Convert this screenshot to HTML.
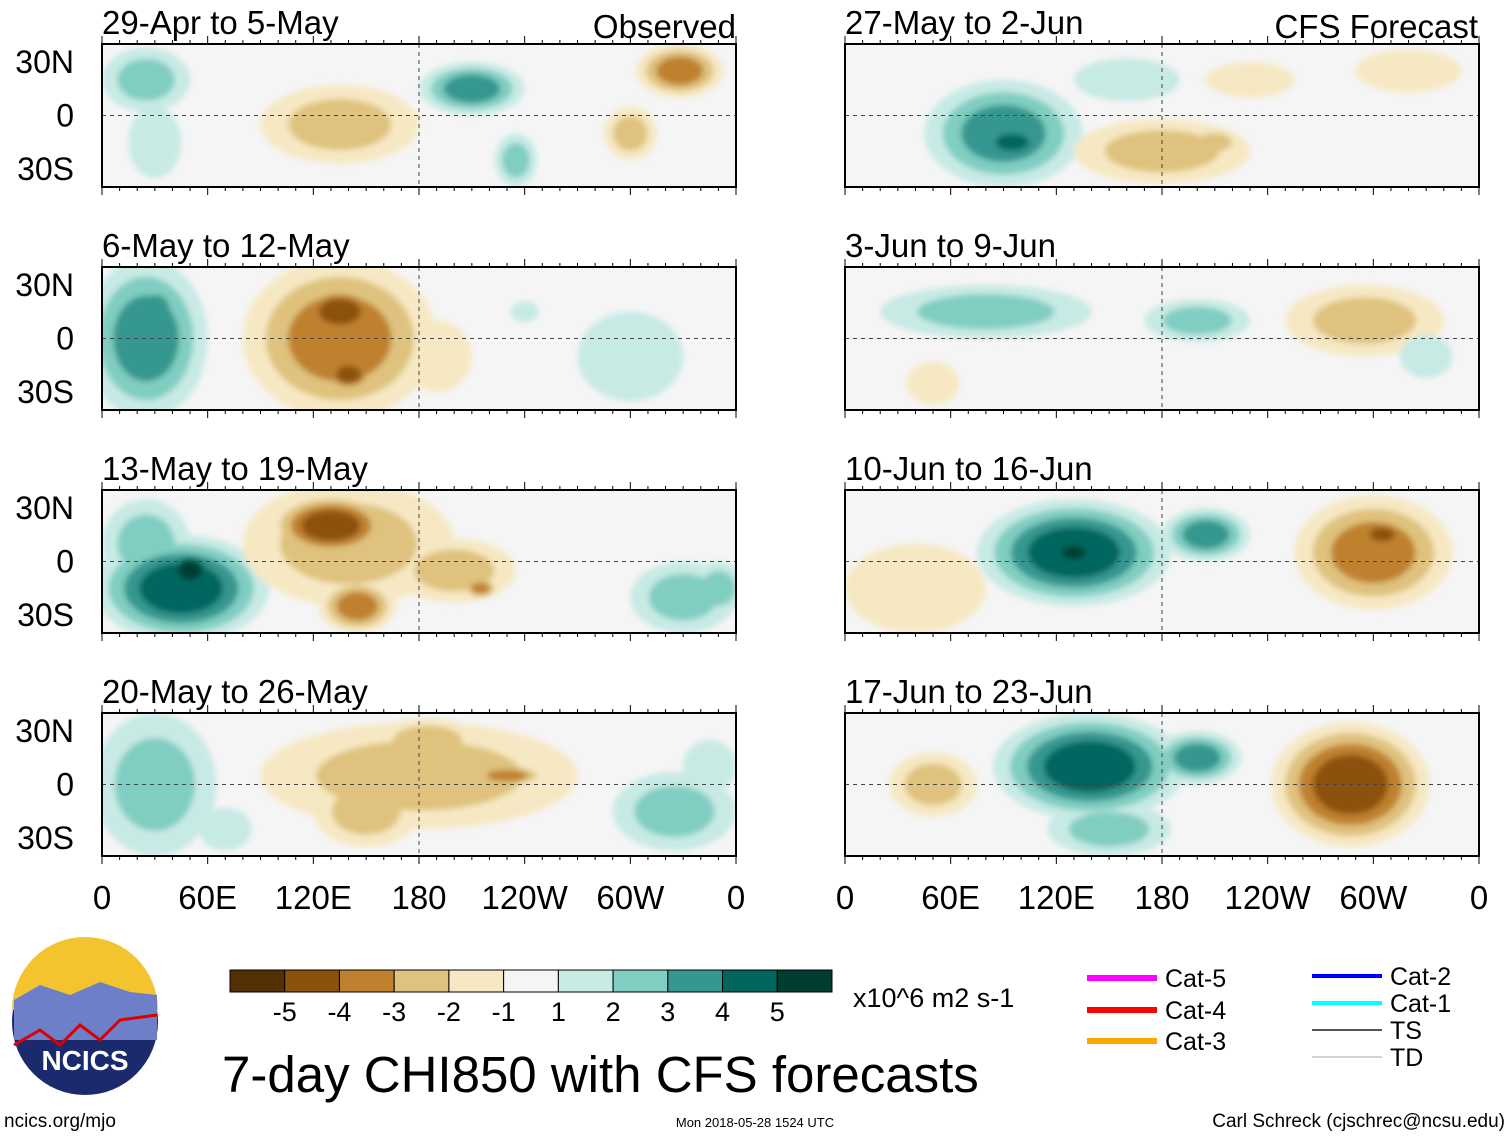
<!DOCTYPE html>
<html><head><meta charset="utf-8"><style>
body{margin:0;background:#fff;font-family:"Liberation Sans",sans-serif}
svg text{font-family:"Liberation Sans",sans-serif}
</style></head><body>
<svg id="c" width="1510" height="1137" xmlns="http://www.w3.org/2000/svg">
<defs><filter id="soft"><feGaussianBlur stdDeviation="3"/></filter></defs>
</svg>
<script>
const colors=["#543005","#8c510a","#bf812d","#dfc27d","#f6e8c3","#f5f5f5","#c7eae5","#80cdc1","#35978f","#01665e","#003c30"];
const levelLabels=["-5","-4","-3","-2","-1","1","2","3","4","5"];
const panelTitles=["29-Apr to 5-May","6-May to 12-May","13-May to 19-May","20-May to 26-May","27-May to 2-Jun","3-Jun to 9-Jun","10-Jun to 16-Jun","17-Jun to 23-Jun"];
const lonTicks=["0","60E","120E","180","120W","60W","0"];
const latTicks=["30N","0","30S"];
// anomaly blobs: [lon, lat, lonRadius, latRadius, level]
const blobs0=[[25,20,25,18,2],[30,-15,15,20,1],[135,-5,45,22,-2],[210,15,30,15,3],[235,-25,12,15,2],[328,25,25,15,-3],[300,-10,15,15,-2]];
const blobs1=[[25,0,35,45,3],[30,18,15,12,3],[135,0,55,45,-3],[135,15,25,15,-4],[140,-20,15,10,-4],[190,-10,20,20,-1],[300,-10,30,25,1],[240,15,8,6,1]];
const blobs2=[[45,-15,50,30,4],[50,-5,15,12,5],[25,10,25,25,2],[140,10,60,35,-2],[130,20,35,18,-4],[145,-25,22,15,-3],[200,-5,35,18,-2],[215,-15,10,6,-3],[330,-20,30,20,2],[350,-15,15,15,2]];
const blobs3=[[30,0,35,40,2],[70,-25,15,12,1],[180,5,90,30,-2],[185,25,30,12,-2],[230,5,22,6,-3],[150,-15,30,20,-2],[325,-15,35,22,2],[345,10,15,15,1]];
const blobs4=[[90,-10,45,30,3],[95,-15,20,10,4],[180,-20,50,18,-2],[210,-15,15,8,-2],[160,20,30,12,1],[230,20,25,10,-1],[320,25,30,12,-1]];
const blobs5=[[80,15,60,15,2],[200,10,30,12,2],[295,10,45,20,-2],[50,-25,15,12,-1],[330,-10,15,12,1]];
const blobs6=[[130,5,55,30,4],[130,5,15,8,5],[205,15,25,15,3],[300,5,45,32,-3],[305,15,15,8,-4],[40,-15,40,25,-1]];
const blobs7=[[139,10,55,30,4],[200,15,25,15,3],[287,0,45,35,-4],[50,0,25,18,-2],[150,-25,35,15,2]];
const allBlobs=[blobs0,blobs1,blobs2,blobs3,blobs4,blobs5,blobs6,blobs7];

const svg=document.getElementById('c');const NS="http://www.w3.org/2000/svg";
function mk(t,a,p){const e=document.createElementNS(NS,t);for(const k in a)e.setAttribute(k,a[k]);(p||svg).appendChild(e);return e;}
const colX=[102,845],W=634,rowY=[44,267,490,713],H=143;
function xScale(col,lon){return colX[col]+lon*W/360;}
function yScale(row,lat){return rowY[row]+H/2-lat*H/80;}
function colorFor(v){return colors[5+v];}
for(let p=0;p<8;p++){
  const col=p<4?0:1,row=p%4,x0=colX[col],y0=rowY[row];
  const g=mk('g',{});
  
  
  const clip=mk('clipPath',{id:'cp'+p},g);
  mk('rect',{x:x0,y:y0,width:W,height:H},clip);
  mk('rect',{x:x0,y:y0,width:W,height:H,fill:'#f5f5f5'},g);
  const inner=mk('g',{'clip-path':'url(#cp'+p+')'},g);
  const blur=mk('g',{filter:'url(#soft)'},inner);
  for(let k=1;k<=5;k++){
    allBlobs[p].forEach(b=>{const n=Math.abs(b[4]),s=Math.sign(b[4]);
      if(k>n)return;const f=(n-k+1)/n;
      const e=mk('ellipse',{cx:xScale(col,b[0]),cy:yScale(row,b[1]),rx:b[2]*W/360*(0.3+0.7*f),ry:b[3]*H/80*(0.3+0.7*f),fill:colorFor(s*k)},blur);
      
      });
  }
  mk('line',{x1:x0,x2:x0+W,y1:yScale(row,0),y2:yScale(row,0),stroke:'#444','stroke-dasharray':'4,4'},g);
  mk('line',{x1:xScale(col,180),x2:xScale(col,180),y1:y0,y2:y0+H,stroke:'#444','stroke-dasharray':'4,4'},g);
  mk('rect',{x:x0,y:y0,width:W,height:H,fill:'none',stroke:'#000','stroke-width':2},g);
  for(let i=0;i<=36;i++){const x=xScale(col,i*10),l=i%6==0?8:4;mk('line',{x1:x,x2:x,y1:y0,y2:y0-l,stroke:'#000'},g);mk('line',{x1:x,x2:x,y1:y0+H,y2:y0+H+l,stroke:'#000'},g);}
  const t=mk('text',{x:x0,y:y0-10,'font-size':33},g);t.textContent=panelTitles[p];
  
  if(col==0){[30,0,-30].forEach((la,i)=>{const tt=mk('text',{x:74,y:yScale(row,la)+11,'font-size':32,'text-anchor':'end'},g);tt.textContent=latTicks[i];
    });}
}
[[736,"Observed"],[1478,"CFS Forecast"]].forEach(a=>{const t=mk('text',{x:a[0],y:38,'font-size':33,'text-anchor':'end'});t.textContent=a[1];
  });
[0,1].forEach(col=>lonTicks.forEach((s,i)=>{const t=mk('text',{x:xScale(col,i*60),y:909,'font-size':33,'text-anchor':'middle'});t.textContent=s;
  }));
const cbX=230,cbW=602/11;
colors.forEach((c,i)=>{const r=mk('rect',{x:cbX+i*cbW,y:970,width:cbW,height:22,fill:c,stroke:'#000'});
  });
levelLabels.forEach((s,i)=>{const t=mk('text',{x:cbX+(i+1)*cbW,y:1021,'font-size':27,'text-anchor':'middle'});t.textContent=s;
  });
function txt(x,y,s,fs,name,anchor){const t=mk('text',{x:x,y:y,'font-size':fs,'text-anchor':anchor||'start'});t.textContent=s;
  return t;}
txt(853,1007,"x10^6 m2 s-1",27,'units-label');
txt(222,1092,"7-day CHI850 with CFS forecasts",51,'chart-title');
txt(4,1127,"ncics.org/mjo",19,'site-link');
txt(755,1127,"Mon 2018-05-28 1524 UTC",13,'timestamp','middle');
txt(1505,1127,"Carl Schreck (cjschrec@ncsu.edu)",19,'author','end');
[[1165,978,"#ff00ff","Cat-5",6],[1165,1010,"#ff0000","Cat-4",6],[1165,1041,"#ffa500","Cat-3",6],[1390,976,"#0000ff","Cat-2",4],[1390,1003,"#00ffff","Cat-1",4],[1390,1030,"#555","TS",2],[1390,1057,"#aaa","TD",1]].forEach(l=>{
  mk('line',{x1:l[0]-78,x2:l[0]-8,y1:l[1],y2:l[1],stroke:l[2],'stroke-width':l[4]});
  txt(l[0],l[1]+9,l[3],25,'storm-legend-entry');});
const lg=mk('g',{});
mk('circle',{cx:85,cy:1022,r:73,fill:'#1a2a6c'},lg);
mk('path',{d:'M12,1010 A73,73 0 0 1 158,1010 Z',fill:'#f4c430'},lg);
mk('path',{d:'M14,1000 L40,985 L70,995 L100,982 L130,992 L157,995 L157,1040 L14,1040 Z',fill:'#6c7fc8'},lg);
mk('polyline',{points:'14,1045 40,1030 60,1045 80,1025 100,1040 120,1020 157,1015',fill:'none',stroke:'#d00','stroke-width':3},lg);
const lt=txt(85,1070,"NCICS",28,'logo-text','middle');lt.setAttribute('fill','#fff');lt.setAttribute('font-weight','bold');
</script>
</body></html>
